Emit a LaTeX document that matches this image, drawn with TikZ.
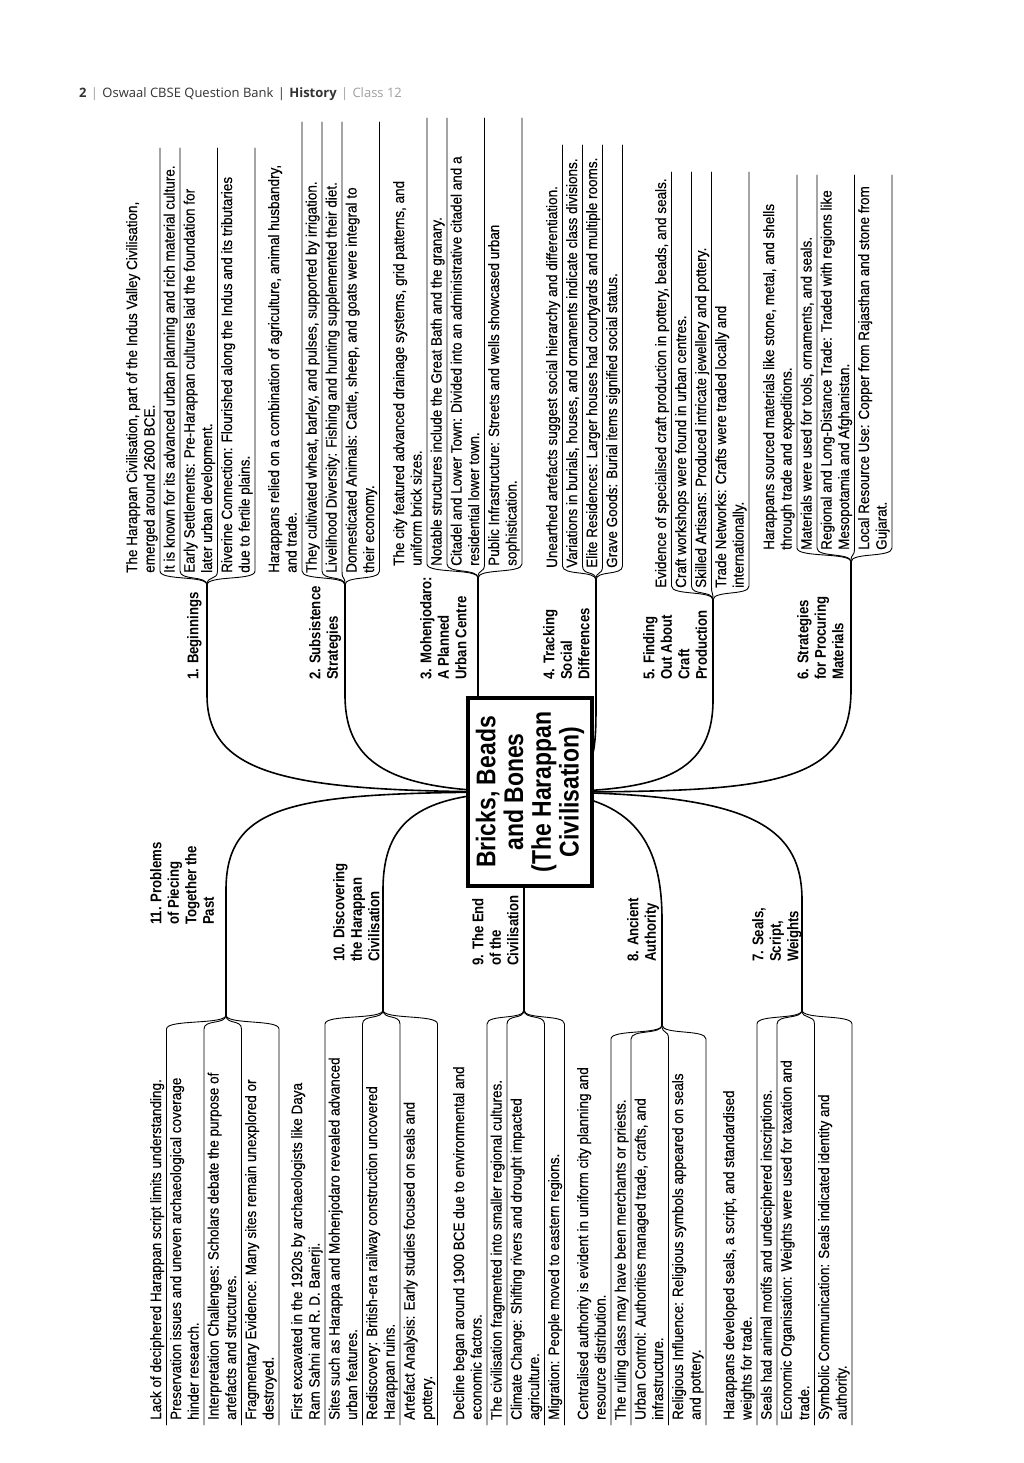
\documentclass[tikz,border=0pt]{standalone}
\usepackage{fontspec}
\setmainfont{Liberation Sans}
\newfontfamily\leaffont[FakeStretch=0.9,FakeBold=0.35]{Liberation Sans}
\newfontfamily\ttlfont[FakeStretch=0.85]{Liberation Sans}
\newfontfamily\hdrfont{Open Sans}
\definecolor{hdrgray}{HTML}{A0A0A0}
\definecolor{hdrdark}{HTML}{333333}
\begin{document}
\begin{tikzpicture}[x=1pt,y=-1pt,
  leaf/.style={shift={(-2,0)}, rotate=90, anchor=north west, inner sep=0pt, align=left, font=\leaffont\fontsize{15}{17.5}\selectfont},
  ttl/.style={rotate=90, anchor=north west, inner sep=0pt, align=left, font=\ttlfont\bfseries\fontsize{15.5}{17.5}\selectfont},
  sepl/.style={line width=0.9pt, line cap=round},
  conn/.style={line width=1.6pt, line cap=round}]
\useasboundingbox (0,0) rectangle (1024,1463);
\fill[white] (0,0) rectangle (1024,1463);

% header
\node[anchor=base west, inner sep=0pt, font=\hdrfont\fontsize{13}{16}\selectfont] (hdr) at (79,98)
 {\textcolor{hdrdark}{\bfseries 2}\textcolor{hdrgray}{\,\,|\,\,}\textcolor{hdrdark}{Oswaal CBSE Question Bank\,\,|\,\,}\textcolor{hdrdark}{\bfseries History}\textcolor{hdrgray}{\,\,|\,\,Class 12}};

% centre and junctions
\coordinate (C) at (530,792);
\coordinate (J1) at (207,585);
\coordinate (J2) at (345,585);
\coordinate (J3) at (478,578);
\coordinate (J4) at (596,580);
\coordinate (J5) at (713,600);
\coordinate (J6) at (851,562);
\coordinate (J11) at (226,1015);
\coordinate (J10) at (383,1010);
\coordinate (J9) at (524,1010);
\coordinate (J8) at (662,1025);
\coordinate (J7) at (802,1010);

% connectors from centre
\draw[conn] (C) .. controls (300,792) and (207,780) .. (207,695) -- (J1);
\draw[conn] (C) .. controls (400,792) and (345,770) .. (345,695) -- (J2);
\draw[conn] (C) .. controls (478,792) and (478,760) .. (478,700) -- (J3);
\draw[conn] (C) .. controls (596,792) and (596,760) .. (596,700) -- (J4);
\draw[conn] (C) .. controls (650,792) and (713,780) .. (713,700) -- (J5);
\draw[conn] (C) .. controls (760,792) and (851,790) .. (851,690) -- (J6);
\draw[conn] (C) .. controls (300,792) and (226,800) .. (226,890) -- (J11);
\draw[conn] (C) .. controls (420,792) and (383,820) .. (383,890) -- (J10);
\draw[conn] (C) .. controls (524,800) and (524,850) .. (524,900) -- (J9);
\draw[conn] (C) .. controls (640,792) and (662,850) .. (662,920) -- (J8);
\draw[conn] (C) .. controls (740,792) and (802,820) .. (802,900) -- (J7);

% centre box
\node[draw, line width=3.5pt, fill=white, rotate=90, minimum width=188pt, minimum height=124pt,
  inner sep=0pt, align=center, font=\ttlfont\bfseries\fontsize{27}{27.8}\selectfont] (box) at (C)
  {Bricks, Beads\\and Bones\\(The Harappan\\Civilisation)};

% ---------- right-hand branches (leaves toward top of page)
\foreach \s in {160,180,217.5,255}
  \draw[sepl] (\s,148) -- (\s,571) .. controls (\s,581) and (207,575) .. (J1);
\foreach \s in {302,322,342,379.5}
  \draw[sepl] (\s,122) -- (\s,571) .. controls (\s,581) and (345,575) .. (J2);
\foreach \s in {427,447,484.5,522}
  \draw[sepl] (\s,118) -- (\s,564) .. controls (\s,574) and (478,568) .. (J3);
\foreach \s in {562.5,582.5,602.5,622.5}
  \draw[sepl] (\s,145) -- (\s,566) .. controls (\s,576) and (596,570) .. (J4);
\foreach \s in {671.5,691.5,711.5,749}
  \draw[sepl] (\s,172) -- (\s,586) .. controls (\s,596) and (713,590) .. (J5);
\foreach \s in {797,817,854.5,892}
  \draw[sepl] (\s,175) -- (\s,548) .. controls (\s,558) and (851,552) .. (J6);

% branch 1
\node[ttl] (t1) at (187,680) {1. Beginnings};
\node[leaf] (b1i) at (128,573) {The Harappan Civilisation, part of the Indus Valley Civilisation,\\emerged around 2600 BCE.};
\node[leaf] (b1a) at (165.5,573) {It is known for its advanced urban planning and rich material culture.};
\node[leaf] (b1b) at (185.5,573) {Early Settlements: Pre-Harappan cultures laid the foundation for\\later urban development.};
\node[leaf] (b1c) at (223,573) {Riverine Connection: Flourished along the Indus and its tributaries\\due to fertile plains.};

% branch 2
\node[ttl] (t2) at (309,680) {2. Subsistence\\Strategies};
\node[leaf] (b2i) at (270,573) {Harappans relied on a combination of agriculture, animal husbandry,\\and trade.};
\node[leaf] (b2a) at (307.5,573) {They cultivated wheat, barley, and pulses, supported by irrigation.};
\node[leaf] (b2b) at (327.5,573) {Livelihood Diversity: Fishing and hunting supplemented their diet.};
\node[leaf] (b2c) at (347.5,573) {Domesticated Animals: Cattle, sheep, and goats were integral to\\their economy.};

% branch 3
\node[ttl] (t3) at (420,680) {3. Mohenjodaro:\\A Planned\\Urban Centre};
\node[leaf] (b3i) at (395,566) {The city featured advanced drainage systems, grid patterns, and\\uniform brick sizes.};
\node[leaf] (b3a) at (432.5,566) {Notable structures include the Great Bath and the granary.};
\node[leaf] (b3b) at (452.5,566) {Citadel and Lower Town: Divided into an administrative citadel and a\\residential lower town.};
\node[leaf] (b3c) at (490,566) {Public Infrastructure: Streets and wells showcased urban\\sophistication.};

% branch 4
\node[ttl] (t4) at (543,680) {4. Tracking\\Social\\Differences};
\node[leaf] (b4i) at (548,568) {Unearthed artefacts suggest social hierarchy and differentiation.};
\node[leaf] (b4a) at (568,568) {Variations in burials, houses, and ornaments indicate class divisions.};
\node[leaf] (b4b) at (588,568) {Elite Residences: Larger houses had courtyards and multiple rooms.};
\node[leaf] (b4c) at (608,568) {Grave Goods: Burial items signified social status.};

% branch 5
\node[ttl] (t5) at (643,680) {5. Finding\\Out About\\Craft\\Production};
\node[leaf] (b5i) at (657,588) {Evidence of specialised craft production in pottery, beads, and seals.};
\node[leaf] (b5a) at (677,588) {Craft workshops were found in urban centres.};
\node[leaf] (b5b) at (697,588) {Skilled Artisans: Produced intricate jewellery and pottery.};
\node[leaf] (b5c) at (717,588) {Trade Networks: Crafts were traded locally and\\internationally.};

% branch 6
\node[ttl] (t6) at (797,680) {6. Strategies\\for Procuring\\Materials};
\node[leaf] (b6i) at (765,550) {Harappans sourced materials like stone, metal, and shells\\through trade and expeditions.};
\node[leaf] (b6a) at (802.5,550) {Materials were used for tools, ornaments, and seals.};
\node[leaf] (b6b) at (822.5,550) {Regional and Long-Distance Trade: Traded with regions like\\Mesopotamia and Afghanistan.};
\node[leaf] (b6c) at (860,550) {Local Resource Use: Copper from Rajasthan and stone from\\Gujarat.};

% ---------- left-hand branches (leaves toward bottom of page)
\foreach \s in {166.5,204,241.5,279}
  \draw[sepl] (\s,1425) -- (\s,1029) .. controls (\s,1019) and (226,1025) .. (J11);
\foreach \s in {325,362.5,400,437.5}
  \draw[sepl] (\s,1425) -- (\s,1024) .. controls (\s,1014) and (383,1020) .. (J10);
\foreach \s in {487,507,544.5,564.5}
  \draw[sepl] (\s,1425) -- (\s,1024) .. controls (\s,1014) and (524,1020) .. (J9);
\foreach \s in {611,631,668.5,706}
  \draw[sepl] (\s,1425) -- (\s,1039) .. controls (\s,1029) and (662,1035) .. (J8);
\foreach \s in {757,777,814.5,852}
  \draw[sepl] (\s,1425) -- (\s,1024) .. controls (\s,1014) and (802,1020) .. (J7);

% branch 11
\node[ttl] (t11) at (150,925) {11. Problems\\of Piecing\\Together the\\Past};
\node[leaf] (b11i) at (152,1420) {Lack of deciphered Harappan script limits understanding.};
\node[leaf] (b11a) at (172,1420) {Preservation issues and uneven archaeological coverage\\hinder research.};
\node[leaf] (b11b) at (209.5,1420) {Interpretation Challenges: Scholars debate the purpose of\\artefacts and structures.};
\node[leaf] (b11c) at (247,1420) {Fragmentary Evidence: Many sites remain unexplored or\\destroyed.};

% branch 10
\node[ttl] (t10) at (333,962) {10. Discovering\\the Harappan\\Civilisation};
\node[leaf] (b10i) at (293,1420) {First excavated in the 1920s by archaeologists like Daya\\Ram Sahni and R. D. Banerji.};
\node[leaf] (b10a) at (330.5,1420) {Sites such as Harappa and Mohenjodaro revealed advanced\\urban features.};
\node[leaf] (b10b) at (368,1420) {Rediscovery: British-era railway construction uncovered\\Harappan ruins.};
\node[leaf] (b10c) at (405.5,1420) {Artefact Analysis: Early studies focused on seals and\\pottery.};

% branch 9
\node[ttl] (t9) at (472,966) {9. The End\\of the\\Civilisation};
\node[leaf] (b9i) at (455,1420) {Decline began around 1900 BCE due to environmental and\\economic factors.};
\node[leaf] (b9a) at (492.5,1420) {The civilisation fragmented into smaller regional cultures.};
\node[leaf] (b9b) at (512.5,1420) {Climate Change: Shifting rivers and drought impacted\\agriculture.};
\node[leaf] (b9c) at (550,1420) {Migration: People moved to eastern regions.};

% branch 8
\node[ttl] (t8) at (627,962) {8. Ancient\\Authority};
\node[leaf] (b8i) at (579,1420) {Centralised authority is evident in uniform city planning and\\resource distribution.};
\node[leaf] (b8a) at (616.5,1420) {The ruling class may have been merchants or priests.};
\node[leaf] (b8b) at (636.5,1420) {Urban Control: Authorities managed trade, crafts, and\\infrastructure.};
\node[leaf] (b8c) at (674,1420) {Religious Influence: Religious symbols appeared on seals\\and pottery.};

% branch 7
\node[ttl] (t7) at (752,962) {7. Seals,\\Script,\\Weights};
\node[leaf] (b7i) at (725,1420) {Harappans developed seals, a script, and standardised\\weights for trade.};
\node[leaf] (b7a) at (762.5,1420) {Seals had animal motifs and undeciphered inscriptions.};
\node[leaf] (b7b) at (782.5,1420) {Economic Organisation: Weights were used for taxation and\\trade.};
\node[leaf] (b7c) at (820,1420) {Symbolic Communication: Seals indicated identity and\\authority.};
\end{tikzpicture}
\end{document}
